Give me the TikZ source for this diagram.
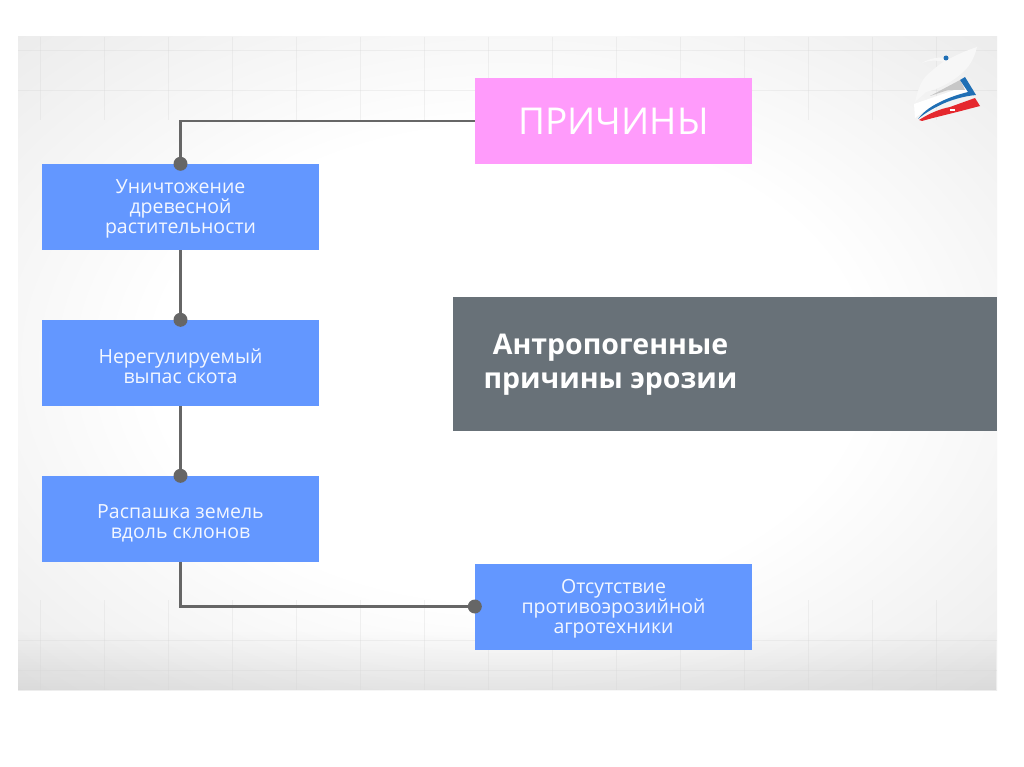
\documentclass[tikz,border=0pt]{standalone}
\usepackage{fontspec}
\setmainfont{Open Sans}
\usetikzlibrary{calc, positioning, fadings}
\definecolor{boxblue}{HTML}{6397FF}
\definecolor{boxpink}{HTML}{FF9BFB}
\definecolor{boxdark}{HTML}{687178}
\definecolor{linegray}{HTML}{666666}
\definecolor{gridgray}{HTML}{D4D4D4}
\definecolor{logoblue}{HTML}{1F6FB5}
\definecolor{logored}{HTML}{E5282E}
\pgfdeclareradialshading{panelshade}{\pgfpoint{0bp}{0bp}}{%
  color(0bp)=(white); color(18bp)=(white); color(32bp)=(black!6); color(42bp)=(black!10); color(50bp)=(black!11)}
\newcommand{\threelines}{\rule{0pt}{18pt}}
\newcommand{\twolines}{\rule{0pt}{22pt}}
\tikzset{
  reason/.style={fill=boxblue, text=white!92!boxblue, minimum width=277pt, minimum height=86pt, inner sep=0pt, align=center, font=\fontsize{19.5}{20}\selectfont},
  link/.style={draw=linegray, line width=2.6pt},
  dot/.style={circle, fill=linegray, minimum size=14pt, inner sep=0pt},
}
\begin{document}
\begin{tikzpicture}[x=1pt, y=-1pt]
\useasboundingbox (0,0) rectangle (1024,767);
% background panel
\fill[white] (0,0) rectangle (1024,767);
\shade[shading=panelshade] (18,37) rectangle (997,690);
\fill[black, opacity=0.08, path fading=north] (18,630) rectangle (997,690);
\foreach \x in {40, 104, 168, 232, 296, 360, 424, 488, 552, 616, 680, 744, 808, 872, 936}{
  \draw[gridgray, opacity=0.3, line width=0.5pt] (\x,37) -- (\x,120);
  \draw[gridgray, opacity=0.3, line width=0.5pt] (\x,600) -- (\x,690);
}
\foreach \y in {50, 90, 640, 670}{
  \draw[gridgray, opacity=0.3, line width=0.5pt] (18,\y) -- (997,\y);
}
% boxes
\node[reason] (felling) at (180.5,207) {\threelines Уничтожение\\древесной\\растительности};
\node[reason] (grazing) at (180.5,363) {\twolines Нерегулируемый\\выпас скота};
\node[reason] (tillage) at (180.5,519) {\twolines Распашка земель\\вдоль склонов};
\node[reason] (agro) at (613.5,606.5) {\threelines Отсутствие\\противоэрозийной\\агротехники};
\node[fill=boxpink, text=white, minimum width=277pt, minimum height=86pt, inner sep=0pt, font=\fontsize{37}{40}\selectfont] (causes) at (613.5,121) {ПРИЧИНЫ};
\node[fill=boxdark, minimum width=544pt, minimum height=134pt, inner sep=0pt] (title) at (725,364) {};
\node[text=white, inner sep=0pt, align=center, font=\fontsize{28.5}{34}\selectfont\bfseries] (titletext) at (610.5,365) {Антропогенные\\причины эрозии};
% connectors
\draw[link] (causes.west) -| (felling.north);
\draw[link] (felling.south) -- (grazing.north);
\draw[link] (grazing.south) -- (tillage.north);
\draw[link] (tillage.south) |- (agro.west);
\node[dot] (dotfelling) at (felling.north) {};
\node[dot] (dotgrazing) at (grazing.north) {};
\node[dot] (dottillage) at (tillage.north) {};
\node[dot] (dotagro) at (agro.west) {};
% logo
\fill[white] (914,104) -- (966,86) -- (968,93) .. controls (948,98) and (930,106) .. (915,118) -- cycle;
\fill[black!22] (930,96) -- (960,80) -- (965,90) -- (948,90) -- cycle;
\fill[white!97!black] (915,102) .. controls (918,88) and (922,80) .. (927,75) .. controls (935,68) and (942,62) .. (947,60) .. controls (958,54) and (968,50) .. (977,47) .. controls (974,60) and (968,68) .. (962,73) .. controls (950,84) and (935,90) .. (926,92) -- cycle;
\fill[white!97!black] (922,63) .. controls (930,58) and (938,57) .. (946,58) -- (945,62) .. controls (938,60) and (930,60) .. (922,63) -- cycle;
\fill[logoblue] (960,80) -- (965,77) -- (976,95) .. controls (965,96) and (955,99) .. (947,102) .. controls (935,107) and (925,113) .. (918,119) .. controls (925,110) and (932,106) .. (940,102) .. controls (950,97) and (960,94) .. (968,92) -- cycle;
\fill[logored] (919,120) .. controls (930,113) and (940,109) .. (950,107) -- (975,98) -- (980,106) -- (957,112) .. controls (945,115) and (932,118) .. (922,121) -- cycle;
\fill[white] (950,109.5) rectangle (955,111.5);
\fill[logoblue] (946,58) circle (2.5pt);
\end{tikzpicture}
\end{document}
